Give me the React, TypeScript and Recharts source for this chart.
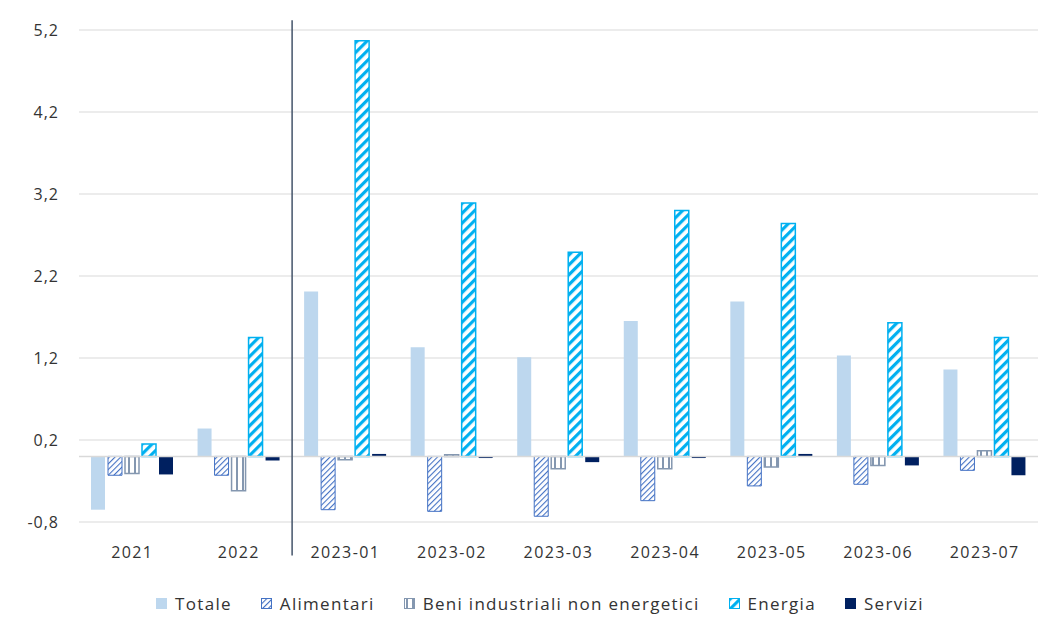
import React from 'react';
import { BarChart, Bar, XAxis, YAxis, CartesianGrid, ReferenceLine, Legend } from 'recharts';

const categories = ['2021', '2022', '2023-01', '2023-02', '2023-03', '2023-04', '2023-05', '2023-06', '2023-07'];
const totale = [-0.65, 0.34, 2.01, 1.33, 1.21, 1.65, 1.89, 1.23, 1.06];
const alimentari = [-0.23, -0.23, -0.65, -0.67, -0.73, -0.54, -0.36, -0.34, -0.17];
const beni = [-0.21, -0.42, -0.04, 0.02, -0.15, -0.15, -0.13, -0.11, 0.07];
const energia = [0.15, 1.45, 5.07, 3.09, 2.49, 3.0, 2.84, 1.63, 1.45];
const servizi = [-0.22, -0.05, 0.03, -0.02, -0.07, -0.02, 0.03, -0.11, -0.23];
const yTicks = [-0.8, 0.2, 1.2, 2.2, 3.2, 4.2, 5.2];
const seriesNames = ['Totale', 'Alimentari', 'Beni industriali non energetici', 'Energia', 'Servizi'];

const data = categories.map((c, i) => ({
  cat: c,
  totale: totale[i],
  alimentari: alimentari[i],
  beni: beni[i],
  energia: energia[i],
  servizi: servizi[i],
}));

const seriesStyle = [
  { key: 'totale', fill: '#BDD7EE', stroke: 'none', sw: 0 },
  { key: 'alimentari', fill: 'url(#patAlim)', stroke: '#4472C4', sw: 1 },
  { key: 'beni', fill: 'url(#patBeni)', stroke: '#8497B0', sw: 1.5 },
  { key: 'energia', fill: 'url(#patEnergia)', stroke: '#00B0F0', sw: 1.5 },
  { key: 'servizi', fill: '#002060', stroke: 'none', sw: 0 },
];

const FONT = '"Open Sans", sans-serif';

const Patterns = () => (
  <svg width={0} height={0} style={{ position: 'absolute' }}>
    <defs>
      <pattern id="patAlim" patternUnits="userSpaceOnUse" width={4} height={4} patternTransform="rotate(45)">
        <rect x={0} y={0} width={4} height={4} fill="#fff" />
        <rect x={0} y={0} width={1.1} height={4} fill="#4472C4" />
      </pattern>
      <pattern id="patBeni" patternUnits="userSpaceOnUse" width={6} height={6}>
        <rect x={0} y={0} width={6} height={6} fill="#fff" />
        <rect x={2} y={0} width={2} height={6} fill="#8497B0" />
      </pattern>
      <pattern id="patEnergia" patternUnits="userSpaceOnUse" width={7} height={7} patternTransform="rotate(45)">
        <rect x={0} y={0} width={7} height={7} fill="#fff" />
        <rect x={0} y={0} width={3.2} height={7} fill="#00B0F0" />
      </pattern>
    </defs>
  </svg>
);

const LegendContent = () => (
  <div style={{ display: 'flex', justifyContent: 'center', alignItems: 'center', fontFamily: FONT, fontSize: 17, color: '#333', letterSpacing: 1.3, paddingLeft: 34 }}>
    {seriesNames.map((n, i) => (
      <div key={n} style={{ display: 'flex', alignItems: 'center', marginRight: i < seriesNames.length - 1 ? 29 : 0 }}>
        <svg width={11} height={11} style={{ marginRight: 8 }}>
          <rect x={0.5} y={0.5} width={10} height={10} fill={seriesStyle[i].fill} stroke={seriesStyle[i].stroke === 'none' ? seriesStyle[i].fill : seriesStyle[i].stroke} strokeWidth={1} />
        </svg>
        <span>{n}</span>
      </div>
    ))}
  </div>
);

export default function App() {
  return (
    <div style={{ position: 'relative', margin: -8, width: 1061, height: 637, background: '#fff' }}>
      <Patterns />
      <div style={{ position: 'absolute', left: 5, top: 5, width: 1056, height: 2.5, background: '#000' }} />
      <BarChart
        width={1061}
        height={637}
        data={data}
        margin={{ top: 30, right: 23, bottom: 52, left: 8 }}
        barSize={14}
        barGap={3}
      >
        <CartesianGrid vertical={false} stroke="#D9D9D9" strokeWidth={1} />
        <XAxis
          dataKey="cat"
          axisLine={false}
          tickLine={false}
          tickMargin={19}
          height={40}
          tick={{ fontFamily: FONT, fontSize: 16, fill: '#333', letterSpacing: 1.4 }}
          interval={0}
        />
        <YAxis
          domain={[-0.8, 5.2]}
          ticks={yTicks}
          axisLine={false}
          tickLine={false}
          tickMargin={14}
          width={71}
          allowDataOverflow
          tick={{ fontFamily: FONT, fontSize: 16, fill: '#333', letterSpacing: 1 }}
          tickFormatter={(v: number) => v.toFixed(1).replace('.', ',')}
        />
        <ReferenceLine y={0} stroke="#D9D9D9" strokeWidth={1.5} />
        {seriesStyle.map((s) => (
          <Bar
            key={s.key}
            dataKey={s.key}
            fill={s.fill}
            stroke={s.stroke}
            strokeWidth={s.sw}
            isAnimationActive={false}
          />
        ))}
        <ReferenceLine
          segment={[{ x: '2023-01', y: 5.32 }, { x: '2023-01', y: -1.21 }]}
          position="start"
          ifOverflow="visible"
          stroke="#44546A"
          strokeWidth={1.5}
        />
        <Legend content={LegendContent} verticalAlign="bottom" wrapperStyle={{ bottom: 22 }} />
      </BarChart>
    </div>
  );
}
